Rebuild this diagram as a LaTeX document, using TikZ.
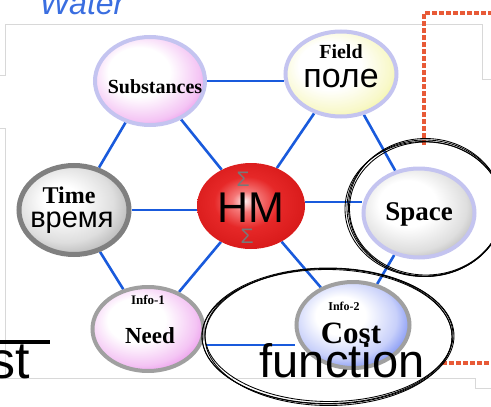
\documentclass[tikz,border=0pt]{standalone}
\usepackage{fontspec}
\setmainfont{Liberation Serif}
\newfontfamily\sansf{Liberation Sans}
\usetikzlibrary{shapes.geometric}
\pgfdeclarelayer{bg}
\pgfsetlayers{bg,main}
\definecolor{lavb}{RGB}{196,196,240}
\definecolor{grayb}{RGB}{160,160,160}
\definecolor{grayd}{RGB}{128,128,128}
\definecolor{linkblue}{RGB}{25,90,220}
\definecolor{framegray}{RGB}{216,216,216}
\definecolor{reddash}{RGB}{232,90,55}
\definecolor{waterblue}{RGB}{58,110,224}
\definecolor{cmag}{RGB}{226,100,226}
\definecolor{cmagl}{RGB}{244,196,244}
\definecolor{cyel}{RGB}{236,240,110}
\definecolor{cyell}{RGB}{248,248,200}
\definecolor{cgry}{RGB}{150,150,150}
\definecolor{cgryl}{RGB}{222,222,222}
\definecolor{cblu}{RGB}{70,100,240}
\definecolor{cblul}{RGB}{200,208,250}
\definecolor{hmw}{RGB}{255,240,240}
\definecolor{hmp}{RGB}{245,120,120}
\definecolor{hmr}{RGB}{230,40,40}
\definecolor{hmd}{RGB}{215,25,25}
\definecolor{sigmagray}{RGB}{120,120,120}
\pgfdeclareradialshading{shsub}{\pgfpoint{-7bp}{7bp}}{color(0bp)=(white); color(14bp)=(white); color(26bp)=(cmagl); color(36bp)=(cmag); color(50bp)=(cmag)}
\pgfdeclareradialshading{shneed}{\pgfpoint{-7bp}{7bp}}{color(0bp)=(white); color(13bp)=(white); color(25bp)=(cmagl); color(36bp)=(cmag); color(50bp)=(cmag)}
\pgfdeclareradialshading{shfield}{\pgfpoint{-7bp}{7bp}}{color(0bp)=(white); color(14bp)=(white); color(26bp)=(cyell); color(36bp)=(cyel); color(50bp)=(cyel)}
\pgfdeclareradialshading{shtime}{\pgfpoint{-7bp}{7bp}}{color(0bp)=(white); color(8bp)=(white); color(22bp)=(cgryl); color(36bp)=(cgry); color(50bp)=(cgry)}
\pgfdeclareradialshading{shspace}{\pgfpoint{-7bp}{7bp}}{color(0bp)=(white); color(13bp)=(white); color(25bp)=(cgryl); color(36bp)=(cgry); color(50bp)=(cgry)}
\pgfdeclareradialshading{shcost}{\pgfpoint{-7bp}{7bp}}{color(0bp)=(white); color(11bp)=(white); color(23bp)=(cblul); color(35bp)=(cblu); color(50bp)=(cblu)}
\pgfdeclareradialshading{shhm}{\pgfpoint{-3bp}{3bp}}{color(0bp)=(hmw); color(6bp)=(hmp); color(15bp)=(hmr); color(28bp)=(hmd); color(50bp)=(hmd)}
\newcommand{\sbf}[1]{\fontsize{#1}{#1}\selectfont\bfseries}
\newcommand{\ssf}[1]{\sansf\fontsize{#1}{#1}\selectfont}
\tikzset{
  bub/.style={ellipse, inner sep=0pt, shade},
  lavbub/.style={bub, draw=lavb, line width=4pt},
  graybub/.style={bub, draw=grayb, line width=4pt},
  link/.style={draw=linkblue, line width=2.6pt},
  scrib/.style={draw=black, line width=0.85pt},
  tx/.style={anchor=base, inner sep=0pt, text=black},
  framel/.style={draw=framegray, line width=0.8pt},
  rdash/.style={draw=reddash, line width=3.5pt, dash pattern=on 5pt off 2pt},
}
\begin{document}
\begin{tikzpicture}[x=1pt,y=-1pt]
\useasboundingbox (0,0) rectangle (491,407);
\clip (0,0) rectangle (491,407);
% frame lines
\draw[framel] (0,75) -- (5,75) -- (5,24) -- (482,24) -- (482,79) -- (491,79);
\draw[framel] (0,128) -- (5,128) -- (5,378) -- (475,378) -- (475,388) -- (491,388);
% red dashed
\draw[rdash] (424,145) -- (424,13) -- (491,13);
\draw[rdash] (442,363) -- (491,363);
% water
\node[anchor=base, inner sep=0pt, font=\ssf{32}\itshape, text=waterblue] (water) at (82,14) {Water};
% nodes
\node[lavbub, shading=shsub, minimum width=110pt, minimum height=88pt] (sub) at (150,81) {};
\node[lavbub, shading=shfield, minimum width=111pt, minimum height=85pt] (field) at (341,74) {};
\node[bub, draw=grayd, line width=5pt, shading=shtime, minimum width=110pt, minimum height=89pt] (time) at (74,210) {};
\node[bub, shading=shhm, minimum width=108pt, minimum height=86pt] (hm) at (251,206) {};
\node[lavbub, shading=shspace, minimum width=111pt, minimum height=89pt] (space) at (419,213) {};
\node[graybub, shading=shneed, minimum width=111pt, minimum height=84pt] (need) at (148,329) {};
\node[graybub, shading=shcost, minimum width=113pt, minimum height=86pt] (cost) at (353,325) {};
% links
\begin{pgfonlayer}{bg}
\draw[link] (sub.east) -- (sub.east -| field.west);
\draw[link] (sub) -- (time);
\draw[link] (sub) -- (hm);
\draw[link] (field) -- (hm);
\draw[link] (field) -- (space);
\draw[link] (time.east) -- (time.east -| hm.west);
\draw[link] ([yshift=4pt]hm.east) -- ([yshift=4pt]hm.east -| space.west);
\draw[link] (time) -- (need);
\draw[link] (hm) -- (need);
\draw[link] (hm) -- (cost);
\draw[link] (space) -- (cost);
\draw[link] ([yshift=-16pt]need.east) -- ([yshift=-16pt]need.east -| cost.west);
\end{pgfonlayer}
% texts
\node[tx, font=\sbf{20}] (tsub) at (155,93) {Substances};
\node[tx, font=\sbf{20}] (tfield) at (341,58) {Field};
\node[tx, font=\ssf{34}] (tpole) at (341,87) {поле};
\node[tx, font=\sbf{24}] (ttime) at (69,203) {Time};
\node[tx, font=\ssf{29}] (tvremya) at (72,227) {время};
\node[tx, font=\ssf{21}, text=sigmagray] (sig1) at (243,186) {Σ};
\node[tx, font=\ssf{21}, text=sigmagray] (sig2) at (247,243) {Σ};
\node[tx, font=\ssf{43}] (thm) at (251,222) {HM};
\node[tx, font=\sbf{27}] (tspace) at (419,220) {Space};
\node[tx, font=\sbf{13}] (tinfo1) at (148,304) {Info-1};
\node[tx, font=\sbf{23}] (tneed) at (150,343) {Need};
\node[tx, font=\sbf{12}] (tinfo2) at (344,310) {Info-2};
\node[tx, font=\sbf{31}] (tcost) at (351,343) {Cost};
% scribbled ellipses
\draw[scrib] (425,208) ellipse [x radius=78pt, y radius=68pt];
\draw[scrib] (426,208.5) ellipse [x radius=76.5pt, y radius=66.5pt];
\draw[scrib] (424,209) ellipse [x radius=79pt, y radius=67.5pt];
\draw[scrib] (425.5,207.5) ellipse [x radius=77pt, y radius=69pt];
\draw[scrib] (328,336) ellipse [x radius=126pt, y radius=68pt];
\draw[scrib] (329,335) ellipse [x radius=124pt, y radius=66.5pt];
\draw[scrib] (327,336.5) ellipse [x radius=125pt, y radius=67pt];
\draw[scrib] (328.5,337) ellipse [x radius=123.5pt, y radius=68.5pt];
% function text and left fragment
\node[tx, font=\ssf{47}] (tfunc) at (342,377) {function};
\node[anchor=base east, inner sep=0pt, font=\ssf{52}] (tst) at (30,378) {st};
\coordinate (barl) at (0,342);
\coordinate (barr) at (50,342);
\draw[line width=4pt] (barl) -- (barr);
\end{tikzpicture}
\end{document}
